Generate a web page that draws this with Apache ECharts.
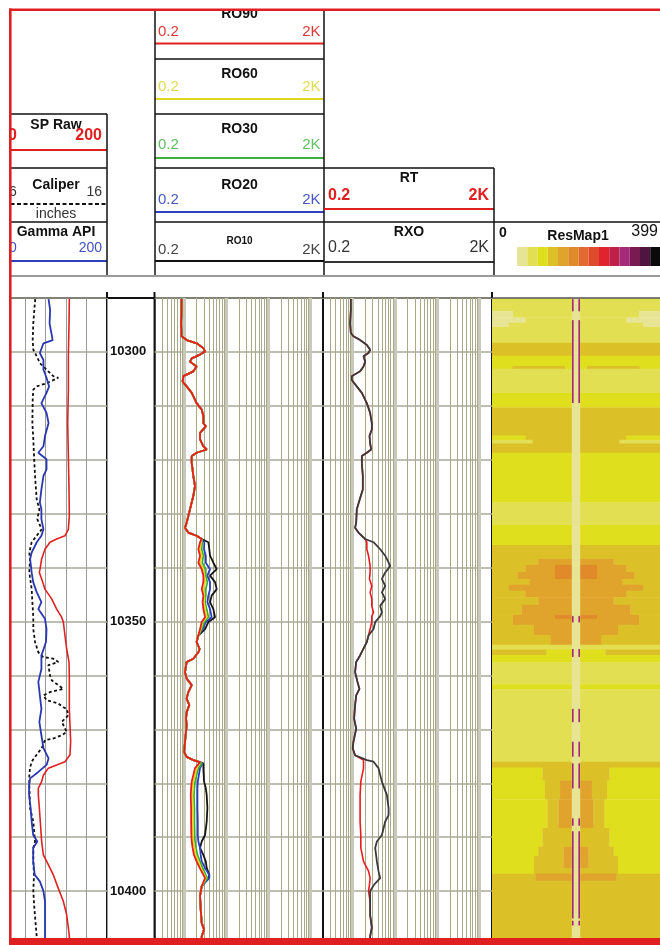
<!DOCTYPE html>
<html><head><meta charset="utf-8">
<script src="https://cdn.jsdelivr.net/npm/echarts@6/dist/echarts.min.js"></script>
<style>html,body{margin:0;padding:0;background:#fff}#c{width:660px;height:945px}</style>
</head><body><div id="c"></div>
<script>
// ---------------- DATA ----------------
// depth range (ft)
const depthMin = 10290, depthMax = 10410;
// Track 1: [depth, value]
const gammaRay = [[10290.2,86],[10292.2,89],[10294.7,88],[10297.8,94],[10298.4,76],[10300.2,69],[10301.5,76],[10303.3,76],[10304.8,82],[10306.4,87],[10307.6,82],[10309.5,72],[10311.3,82],[10313.2,86],[10315.6,79],[10317.5,76],[10318.7,66],[10319.9,82],[10321.8,82],[10323.0,76],[10325.5,72],[10327.9,69],[10329.2,72],[10331.0,72],[10332.9,76],[10334.1,72],[10335.3,63],[10337.2,53],[10338.4,50],[10340.9,53],[10342.7,56],[10344.6,63],[10346.4,72],[10347.7,66],[10349.5,79],[10351.4,82],[10353.8,81],[10356.3,72],[10358.8,72],[10361.2,66],[10363.7,69],[10366.2,72],[10368.6,68],[10371.1,72],[10373.5,76],[10375.4,86],[10376.6,82],[10377.9,66],[10379.1,50],[10380.3,48],[10382.2,48],[10384.6,51],[10387.1,53],[10389.6,56],[10390.8,64],[10392.0,56],[10394.5,56],[10397.0,59],[10398.2,69],[10400.0,76],[10401.9,79],[10404.4,79],[10406.8,79],[10408.4,79],[10410,79]];
const spRaw = [[10290.2,126.5],[10294.7,125.9],[10300.8,124.6],[10307.0,124.6],[10313.2,123.3],[10319.3,124.6],[10325.5,125.9],[10330.4,126.5],[10332.9,124.6],[10334.1,118],[10334.7,101.8],[10335.3,88.8],[10336.6,79],[10338.4,72.5],[10340.3,69.3],[10340.9,68],[10342.1,72.5],[10344.0,79],[10345.8,92],[10347.7,101.8],[10349.2,111.5],[10350.1,114.8],[10352.6,118],[10355.1,121.3],[10357.5,125.9],[10360.0,126.5],[10366.2,126.5],[10369.2,127.8],[10372.3,129.1],[10374.7,127.8],[10376.0,118],[10376.6,101.8],[10377.2,85.5],[10378.5,75.8],[10379.7,72.5],[10380.9,66],[10382.2,66],[10384.6,68],[10390.8,72.5],[10393.3,75.8],[10394.5,82.3],[10397.0,95.3],[10399.5,105],[10401.9,114.8],[10404.4,121.3],[10406.8,124.6],[10408.4,126.5],[10410,126.5]];
const caliper = [[10290.2,9.0],[10292.2,8.91],[10294.7,8.81],[10297.8,8.75],[10299.6,8.81],[10300.8,9.14],[10302.1,9.46],[10303.3,10.11],[10304.5,10.76],[10304.8,11.25],[10305.8,10.11],[10306.4,9.14],[10307.0,8.81],[10308.9,8.75],[10313.2,8.72],[10316.2,8.81],[10319.3,8.88],[10323.0,8.98],[10325.5,9.07],[10327.3,9.14],[10329.2,9.40],[10331.0,9.20],[10332.9,9.63],[10334.1,9.14],[10335.3,8.65],[10337.2,8.42],[10338.4,8.49],[10340.9,8.42],[10344.0,8.65],[10346.4,8.72],[10349.2,8.81],[10351.4,8.81],[10353.8,8.98],[10355.7,9.30],[10356.6,9.79],[10356.9,10.76],[10357.5,11.25],[10358.1,10.28],[10360.0,10.44],[10360.9,10.60],[10361.8,11.25],[10362.5,11.74],[10363.1,10.44],[10363.7,9.79],[10364.6,10.11],[10365.2,11.25],[10365.9,11.74],[10366.2,12.07],[10367.4,12.23],[10368.6,11.58],[10369.2,11.74],[10370.5,12.07],[10371.1,11.58],[10371.7,10.76],[10372.0,9.95],[10372.3,9.79],[10373.5,9.63],[10374.7,9.14],[10376.0,8.65],[10377.2,8.49],[10378.5,8.42],[10380.3,8.42],[10384.6,8.49],[10387.1,8.81],[10390.8,8.98],[10392.0,8.81],[10394.5,8.81],[10397.0,8.88],[10400.0,8.81],[10403.1,8.91],[10408.4,9.14],[10410,9.14]];

// Track 3: array-induction resistivities (ohm-m)
const roDepth = [10290.2,10292.2,10294.7,10297.1,10297.8,10298.4,10299.3,10299.9,10300.5,10301.2,10301.8,10302.7,10303.6,10304.5,10305.5,10306.4,10307.6,10309.5,10310.7,10311.9,10313.2,10313.8,10315.0,10316.2,10317.5,10318.1,10318.7,10319.3,10320.6,10323.0,10324.9,10326.7,10329.2,10331.7,10332.6,10333.5,10334.1,10334.7,10335.0,
 10335.3,10336.6,10337.8,10339.1,10340.3,10341.5,10342.7,10344.0,10345.2,10346.4,10347.7,10349.2,10350.1,10351.4,
 10352.6,10353.8,10355.1,10355.7,10356.9,10357.5,10359.4,10360.6,10361.8,10363.1,10364.3,10365.5,10366.8,10368.0,10369.2,10370.5,10372.3,10374.2,10375.1,10375.7,10376.1,
 10376.3,10377.2,10379.7,10380.9,10382.2,10384.6,10387.1,10389.6,10390.8,10392.0,10393.3,10394.5,10395.7,10397.0,10397.6,
 10399.1,10400.9,10403.4,10405.9,10407.1,10408.4,10410];
const roSharedA = [0.88,0.88,0.85,0.88,1.16,2.0,2.89,3.17,2.41,1.53,1.39,2.0,1.67,0.97,0.93,1.16,1.53,2.0,2.64,2.89,2.89,3.3,2.41,2.41,2.89,3.47,2.0,1.53,1.53,1.67,1.83,1.67,1.39,1.16,1.06,1.27,2.0,2.64,2.89];
const roSharedB = [2.2,2.0,2.36,2.2,1.67,1.16,1.06,1.16,1.53,1.27,1.16,1.34,1.16,1.12,1.16,1.12,1.06,1.01,1.16,1.67,2.41];
const roSharedC = [2.64,2.41,2.5,2.64,3.0,2.64,2.64];
const ro90A = [2.41,2.20,2.41,2.20,2.64,2.89,2.89,2.64,2.89,2.78,2.89,3.17,2.64,2.41];
const ro60A = [2.55,2.41,2.64,2.41,2.89,3.05,3.17,2.89,3.05,3.0,3.17,3.47,2.78,2.5];
const ro30A = [2.72,2.64,2.89,2.72,3.3,3.3,3.6,3.3,3.3,3.17,3.47,3.8,3.05,2.64];
const ro20A = [3.05,3.0,3.3,3.3,4.16,3.6,4.16,4.16,3.8,3.6,4.16,4.56,3.3,2.78];
const ro10A = [3.80,4.0,4.16,4.99,5.99,4.16,5.47,5.99,4.56,4.16,4.99,5.47,3.8,3.17];
const ro90B = [2.64,1.83,1.53,1.48,1.45,1.48,1.48,1.5,1.53,1.61,1.73,2.0,2.36,2.89,3.17];
const ro60B = [2.64,2.0,1.67,1.61,1.58,1.61,1.61,1.64,1.67,1.77,1.9,2.2,2.5,3.05,3.3];
const ro30B = [2.69,2.2,1.83,1.77,1.73,1.77,1.77,1.8,1.83,1.93,2.09,2.41,2.78,3.3,3.6];
const ro20B = [2.78,2.41,2.13,2.09,2.09,2.09,2.13,2.13,2.2,2.41,2.5,2.64,3.17,4.0,4.0];
const ro10B = [2.89,2.89,3.0,3.3,3.47,3.6,3.47,3.17,2.64,2.41,2.89,3.3,3.47,4.0,3.8];

// Track 4: RT / RXO (ohm-m)
const rtDepth = [10290.2,10292.2,10294.7,10296.5,10297.1,10297.8,10298.7,10299.6,10300.2,10300.8,10301.8,10302.7,10303.6,10304.5,10305.2,10306.4,10307.6,10309.5,10311.3,10313.2,10314.4,10315.6,10316.9,10318.1,10318.7,10319.3,10320.6,10323.0,10325.5,10326.7,10329.2,10331.7,10332.6,10333.5,10334.7,
 10335.3,10336.6,10337.8,10339.7,10340.9,10342.1,10343.4,10344.6,10345.8,10347.1,10348.3,10349.0,10350.1,10351.4,
 10352.6,10353.8,10356.3,10357.5,10359.4,10361.2,10362.5,10363.7,10365.5,10368.0,10369.9,10372.3,10373.5,10374.8,
 10375.7,10376.0,10377.2,10379.7,10382.2,10384.6,10385.9,10387.1,10389.6,10390.8,10392.0,10394.5,10396.3,10397.6,10398.8,10400.0,
 10401.9,10404.4,10406.8,10408.4,10410];
const rtSharedA = [0.91,0.91,0.876,0.91,1.05,1.51,2.18,2.61,2.39,1.82,1.99,1.82,1.51,0.96,0.96,1.26,1.66,2.18,2.61,2.86,2.86,2.52,2.61,2.76,2.18,1.66,1.66,1.75,1.75,1.57,1.26,1.22,1.15,1.38,1.99];
const rtSharedB = [2.39,2.18,1.51,1.22,1.15,1.31,1.46,1.22,1.15,1.09,1.22,1.05,1.01,1.15];
const rtSharedC = [2.61,2.61,2.86,2.61,2.61];
const rtA = [2.18,2.18,2.39,2.61,2.61,2.52,2.86,2.61,2.86,2.86,3.14,2.86,2.86,2.61];
const rxoA = [3.14,4.52,5.94,7.80,5.94,4.95,5.94,4.95,5.94,4.52,4.95,4.52,3.44,3.14];
const rtB = [1.82,1.99,1.82,1.57,1.51,1.51,1.51,1.51,1.57,1.57,1.57,1.82,2.39,2.61,2.52,2.39];
const rxoB = [2.18,3.14,4.12,4.95,6.51,7.13,7.13,5.94,4.95,3.77,3.44,3.77,4.12,4.52,3.25,2.61];

// log grid values for resistivity tracks
const logMinor = [0.3,0.4,0.5,0.6,0.7,0.8,0.9,2,3,4,5,6,7,8,9,20,30,40,50,60,70,80,90,200,300,400,500,600,700,800,900];
const logMajor = [1,10,100,1000];

// Track 5: ResMap1 (value 0-399) bands: [top, bottom, outer, r1, mid, r2, core]  (r = normalized radius)
const resBands = [
 [10290,10292.4,40,0,40,0,40],[10292.4,10293.6,10,0.75,40,0,40],[10293.6,10294.6,10,0.6,40,0,40],[10294.6,10295.4,10,0.8,40,0,40],[10295.4,10298.3,40,0,40,0,40],
 [10298.3,10300.7,100,0,100,0,100],[10300.7,10302.6,70,0,70,0,70],[10302.6,10303.1,70,0.76,100,0.13,70],
 [10303.1,10307.6,40,0,40,0,40],[10307.6,10310.3,70,0,70,0,70],[10310.3,10315.5,100,0,100,0,100],
 [10315.5,10316.3,70,0.6,100,0,100],[10316.3,10317.0,40,0.52,100,0,100],[10317.0,10318.7,100,0,100,0,100],[10318.7,10327.9,70,0,70,0,70],
 [10327.9,10332.1,40,0,40,0,40],[10332.1,10335.8,70,0,70,0,70],[10335.8,10338.4,100,0,100,0,100],
 [10338.4,10339.5,100,0.45,130,0,130],[10339.5,10340.8,100,0.6,130,0.25,160],[10340.8,10342.1,100,0.7,130,0.25,160],
 [10342.1,10343.2,100,0.55,130,0,130],[10343.2,10344.3,100,0.8,130,0,130],[10344.3,10345.5,100,0.6,130,0,130],
 [10345.5,10346.9,100,0.45,130,0,130],[10346.9,10348.8,100,0.65,130,0,130],[10348.8,10349.5,100,0.75,130,0.25,160],
 [10349.5,10350.6,100,0.75,130,0,130],[10350.6,10352.5,100,0.5,130,0,130],[10352.5,10354.3,100,0.3,130,0,130],
 [10354.3,10355.2,40,0,40,0,40],[10355.2,10356.2,100,0.35,70,0,70],[10356.2,10357.5,70,0,70,0,70],
 [10357.5,10361.7,40,0,40,0,40],[10361.7,10362.6,70,0,70,0,70],[10362.6,10376.0,40,0,40,0,40],
 [10376.0,10377.1,100,0,100,0,100],[10377.1,10379.5,70,0.4,100,0,100],[10379.5,10383.0,70,0.37,100,0.19,130],
 [10383.0,10388.3,70,0.34,100,0.21,130],
 [10388.3,10391.8,70,0.4,100,0,100],[10391.8,10393.5,70,0.45,100,0.15,130],[10393.5,10395.7,70,0.5,100,0.15,130],[10395.7,10396.8,70,0.5,100,0,100],
 [10396.8,10398.1,100,0.48,130,0,130],[10398.1,10410,100,0,100,0,100]
];
const boreRadius = 0.05;       // central borehole stripe
const boreValue = 10;
const flagValue = 300;         // magenta flags at borehole wall
const flagSegments = [[10290.2,10292.4],[10294.1,10309.4],[10349.0,10350.1],[10355.1,10356.5],[10366.2,10368.6],[10372.3,10375.0],[10376.3,10380.9],[10386.5,10387.8],[10388.9,10405.0],[10405.5,10406.3]];
const resPalette = ['#e8e496','#e2e052','#e0df1e','#dcc028','#e0a42c','#e08a2a','#e06a30','#e04a2c','#e0242e','#c0204a','#a42a7a','#7a1a52','#501440','#0a0a0a'];
const resMax = 400;

// ---------------- BUILD ----------------
const FONT = '"Liberation Sans", Arial, sans-serif';
const TOP = 298, H = (depthMax - depthMin) * 5.41;
const swap = arr => arr.map(p => [p[1], p[0]]);
const zipDepth = (dep, vals) => vals.map((v, i) => [v, dep[i]]);
const ro90 = [...roSharedA, ...ro90A, ...roSharedB, ...ro90B, ...roSharedC];
const ro60 = [...roSharedA, ...ro60A, ...roSharedB, ...ro60B, ...roSharedC];
const ro30 = [...roSharedA, ...ro30A, ...roSharedB, ...ro30B, ...roSharedC];
const ro20 = [...roSharedA, ...ro20A, ...roSharedB, ...ro20B, ...roSharedC];
const ro10 = [...roSharedA, ...ro10A, ...roSharedB, ...ro10B, ...roSharedC];
const rt  = [...rtSharedA, ...rtA, ...rtSharedB, ...rtB, ...rtSharedC];
const rxo = [...rtSharedA, ...rxoA, ...rtSharedB, ...rxoB, ...rtSharedC];

const resItems = [];
resBands.forEach(b => {
  const [top, bot, outer, r1, mid, r2, core] = b;
  resItems.push([Math.max(r1, boreRadius), 1, top, bot, outer]);
  if (r1 > r2 && r1 > boreRadius) resItems.push([Math.max(r2, boreRadius), r1, top, bot, mid]);
  if (r2 > boreRadius) resItems.push([boreRadius, r2, top, bot, core]);
});
resItems.push([0, boreRadius, depthMin, depthMax, boreValue]);
flagSegments.forEach(s => resItems.push([boreRadius * 0.64, boreRadius * 0.96, s[0], s[1], flagValue]));

const lineSeries = (name, data, xi, yi, color, width, extra) => Object.assign({
  name, type: 'line', data, xAxisIndex: xi, yAxisIndex: yi, showSymbol: false, symbol: 'none',
  lineStyle: { color, width }, animation: false, silent: true, z: 3
}, extra || {});

const gridMarks = (xi, yi) => ({
  type: 'line', data: [], xAxisIndex: xi, yAxisIndex: yi, silent: true, animation: false, z: 1,
  markLine: { silent: true, z: 1, symbol: ['none', 'none'], label: { show: false }, animation: false,
    data: [
      ...logMajor.map(v => ({ xAxis: v, lineStyle: { color: '#c8c8bc', width: 3, type: 'solid' } })),
      ...logMinor.map(v => ({ xAxis: v, lineStyle: { color: '#a9a98a', width: 1, type: 'solid' } }))
    ] }
});

const hAxisCommon = { axisLine: { show: false }, axisTick: { show: false }, axisLabel: { show: false } };
const depthAxis = (gi, split) => Object.assign({
  type: 'value', gridIndex: gi, inverse: true, min: depthMin, max: depthMax, interval: 10,
  splitLine: { show: split, lineStyle: { color: '#a8a898', width: 1.5 } }
}, hAxisCommon);

// ---- header graphics ----
const G = [];
const txt = (text, x, y, size, bold, color, align) => G.push({
  type: 'text', x, y, z: 60, silent: true,
  style: { text, font: (bold ? 'bold ' : '') + size + 'px ' + FONT, fill: color,
    textAlign: align || 'center', textVerticalAlign: 'middle', align: align || 'center', verticalAlign: 'middle' }
});
const ln = (x1, y1, x2, y2, color, w, dash) => G.push({
  type: 'line', z: 60, silent: true, shape: { x1, y1, x2, y2 },
  style: { stroke: color, lineWidth: w, lineDash: dash || null }
});
const RED = '#e02020', BLK = '#111';
// Track 1 header
txt('SP Raw', 56, 125, 14, true, BLK); txt('0', 8, 136, 16, true, RED, 'left'); txt('200', 102, 136, 16, true, RED, 'right');
ln(4, 150, 107, 150, RED, 2);
txt('Caliper', 56, 185, 14, true, BLK); txt('6', 9, 192, 14, false, '#333', 'left'); txt('16', 102, 192, 14, false, '#333', 'right');
ln(4, 204, 107, 204, BLK, 2, [4, 2.5]);
txt('inches', 56, 214, 14, false, '#333');
txt('Gamma API', 56, 232, 14, true, BLK); txt('0', 9, 248, 14, false, '#4050c0', 'left'); txt('200', 102, 248, 14, false, '#4050c0', 'right');
ln(4, 261, 107, 261, '#3040b8', 2);
[114, 168, 222].forEach(y => ln(4, y, 107, y, BLK, 1.5));
ln(107, 114, 107, 276, BLK, 1.5);
// Track 3 header
const roHead = [
  ['RO90', 14.5, 31.5, 43.5, '#e03838', '#e02020', 14],
  ['RO60', 74, 87, 99, '#e0dc50', '#e0d820', 14],
  ['RO30', 129.5, 145, 158, '#60c060', '#40b040', 14],
  ['RO20', 185, 199.5, 212, '#4858c0', '#3040c0', 14],
  ['RO10', 241, 249.5, 261, '#444', '#111', 10]
];
roHead.forEach(h => {
  txt(h[0], 239.5, h[1], h[6], true, BLK);
  txt('0.2', 158, h[2], 15, false, h[4], 'left'); txt('2K', 320.5, h[2], 15, false, h[4], 'right');
  ln(155, h[3], 324, h[3], h[5], 2);
});
[59, 114, 168, 222].forEach(y => ln(155, y, 324, y, BLK, 1.5));
ln(155, 0, 155, 276, BLK, 1.5); ln(324, 0, 324, 276, BLK, 1.5);
// Track 4 header
txt('RT', 409, 178.5, 14, true, BLK); txt('0.2', 328, 196, 16, true, RED, 'left'); txt('2K', 489, 196, 16, true, RED, 'right');
ln(324, 209, 494, 209, RED, 2);
txt('RXO', 409, 232, 14, true, BLK); txt('0.2', 328, 247.5, 16, false, '#333', 'left'); txt('2K', 489, 247.5, 16, false, '#333', 'right');
ln(324, 262, 494, 262, '#333', 2);
ln(324, 168, 494, 168, BLK, 1.5); ln(324, 222, 660, 222, BLK, 1.5); ln(494, 168, 494, 276, BLK, 1.5);
// Track 5 header
txt('0', 499, 233, 14, true, BLK, 'left'); txt('ResMap1', 578, 236, 14, true, BLK); txt('399', 658, 232, 16, false, BLK, 'right');
// header bottom & track tick marks
ln(9, 276, 660, 276, '#9a9a9a', 2);
[107, 154.5, 323, 492].forEach(x => ln(x, 292, x, 298, BLK, 2));
ln(492, 298, 660, 298, '#555', 1.5);
// depth-track background (keeps the depth column clear of grid lines)
G.push({ type: 'rect', z: 1, silent: true, shape: { x: 108.2, y: 299.2, width: 45.2, height: 640 }, style: { fill: '#fff' } });
// frame
G.push({ type: 'rect', z: 100, silent: true, shape: { x: 0, y: 0, width: 9, height: 945 }, style: { fill: '#fff' } });
G.push({ type: 'rect', z: 100, silent: true, shape: { x: 0, y: 0, width: 660, height: 9 }, style: { fill: '#fff' } });
G.push({ type: 'rect', z: 101, silent: true, shape: { x: 9, y: 8.5, width: 2.6, height: 936.5 }, style: { fill: RED } });
G.push({ type: 'rect', z: 101, silent: true, shape: { x: 9, y: 8.5, width: 651, height: 2.6 }, style: { fill: RED } });
G.push({ type: 'rect', z: 101, silent: true, shape: { x: 9, y: 938, width: 651, height: 7 }, style: { fill: RED } });

const gridBase = { top: TOP, height: H, show: true, borderColor: BLK, borderWidth: 2, backgroundColor: 'transparent', containLabel: false };

const series = [
  lineSeries('SP', swap(spRaw), 0, 0, '#e02020', 1.6),
  lineSeries('Caliper', swap(caliper), 1, 0, '#111', 1.8, { lineStyle: { color: '#111', width: 1.8, type: [3, 2.5] } }),
  lineSeries('GR', swap(gammaRay), 0, 0, '#2838b0', 1.8),
  gridMarks(3, 2),
  lineSeries('RO10', zipDepth(roDepth, ro10), 3, 2, '#151515', 1.8),
  lineSeries('RO20', zipDepth(roDepth, ro20), 3, 2, '#2c3cc0', 1.8),
  lineSeries('RO30', zipDepth(roDepth, ro30), 3, 2, '#38b038', 1.8),
  lineSeries('RO60', zipDepth(roDepth, ro60), 3, 2, '#e8d820', 1.8),
  lineSeries('RO90', zipDepth(roDepth, ro90), 3, 2, '#e81c1c', 1.8),
  gridMarks(4, 3),
  lineSeries('RT', zipDepth(rtDepth, rt), 4, 3, '#e81c1c', 1.6),
  lineSeries('RXO', zipDepth(rtDepth, rxo), 4, 3, '#3a3a3a', 1.8),
  {
    type: 'custom', name: 'ResMap1', xAxisIndex: 5, yAxisIndex: 4, data: resItems, silent: true, animation: false,
    dimensions: ['r0', 'r1', 'top', 'bottom', 'value'], encode: { x: [0, 1], y: [2, 3] }, clip: true,
    renderItem: (params, api) => {
      const r0 = api.value(0), r1 = api.value(1), top = api.value(2), bot = api.value(3);
      const a = api.coord([-r1, top]), b = api.coord([-r0, bot]);
      const c = api.coord([r0, top]), d = api.coord([r1, bot]);
      const fill = api.visual('color');
      return { type: 'group', children: [
        { type: 'rect', shape: { x: a[0], y: a[1], width: b[0] - a[0] + 0.3, height: b[1] - a[1] + 0.4 }, style: { fill } },
        { type: 'rect', shape: { x: c[0] - 0.3, y: c[1], width: d[0] - c[0] + 0.3, height: d[1] - c[1] + 0.4 }, style: { fill } }
      ] };
    }
  }
];

const option = {
  backgroundColor: '#fff',
  animation: false,
  textStyle: { fontFamily: FONT },
  grid: [
    Object.assign({ left: 4.5, width: 102.5 }, gridBase),
    Object.assign({ left: 107, width: 47.5 }, gridBase),
    Object.assign({ left: 154.5, width: 168.5 }, gridBase),
    Object.assign({ left: 323, width: 169 }, gridBase),
    Object.assign({}, gridBase, { left: 492, width: 168, show: false })
  ],
  xAxis: [
    Object.assign({ type: 'value', gridIndex: 0, min: 0, max: 200, interval: 40, splitLine: { show: true, lineStyle: { color: '#9a9a9a', width: 1 } } }, hAxisCommon),
    Object.assign({ type: 'value', gridIndex: 0, min: 6, max: 16, splitLine: { show: false } }, hAxisCommon),
    Object.assign({ type: 'value', gridIndex: 1, min: 0, max: 1, splitLine: { show: false } }, hAxisCommon),
    Object.assign({ type: 'log', logBase: 10, gridIndex: 2, min: 0.2, max: 2000, splitLine: { show: false } }, hAxisCommon),
    Object.assign({ type: 'log', logBase: 10, gridIndex: 3, min: 0.2, max: 2000, splitLine: { show: false } }, hAxisCommon),
    Object.assign({ type: 'value', gridIndex: 4, min: -1, max: 1, splitLine: { show: false } }, hAxisCommon)
  ],
  yAxis: [
    depthAxis(0, true),
    {
      type: 'value', gridIndex: 1, inverse: true, min: depthMin, max: depthMax, interval: 10, z: 5,
      axisLine: { show: false }, axisTick: { show: false }, splitLine: { show: false },
      axisLabel: { inside: true, margin: 3, fontSize: 13, fontWeight: 'bold', color: '#111', fontFamily: FONT,
        formatter: v => (v % 50 === 0 ? String(v) : '') }
    },
    depthAxis(2, true),
    depthAxis(3, true),
    depthAxis(4, false)
  ],
  visualMap: {
    type: 'piecewise', seriesIndex: 12, dimension: 4, orient: 'horizontal', left: 517, top: 247, padding: 0,
    itemWidth: 10.25, itemHeight: 19, itemGap: 0, itemSymbol: 'rect', showLabel: false, selectedMode: false, hoverLink: false,
    pieces: resPalette.map((c, i) => ({ gte: i * resMax / resPalette.length, lt: (i + 1) * resMax / resPalette.length, color: c }))
  },
  series,
  graphic: { elements: G }
};
const chart = echarts.init(document.getElementById('c'));
chart.setOption(option);
</script>
</body></html>
